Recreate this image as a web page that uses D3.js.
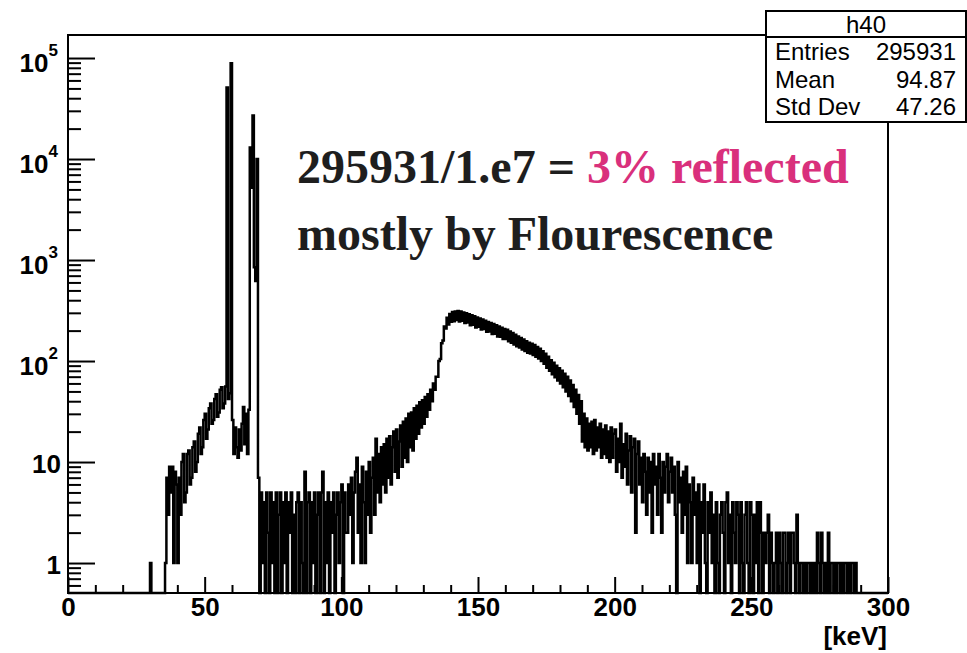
<!DOCTYPE html>
<html>
<head>
<meta charset="utf-8">
<script src="https://cdn.jsdelivr.net/npm/d3@7"></script>
<style>
  body { margin: 0; background: #fff; }
  svg { display: block; }
</style>
</head>
<body>
<div id="chart"></div>
<script>
// h40 energy spectrum, log y, 0.5 keV bins

const binWidth = 0.5;
const xMax = 300;

// lone single counts below the hump
const isolatedKeV = [30.0, 35.5];
const isolatedCounts = [1, 1];

// contiguous segments, each starts at the keV value below
const segmentStarts = [36, 58, 70, 102, 135, 160, 200, 250];

const humpCounts = [
  7, 3, 9, 5, 9, 1, 8, 6, 1, 7,
  3, 10, 12, 4, 5, 12, 13, 6, 7, 14,
  16, 8, 10, 19, 22, 12, 14, 26, 30, 17,
  21, 34, 38, 24, 26, 42, 47, 28, 31, 52,
  55, 34, 38, 56
];
const kLineCounts = [
  51000, 42, 48, 89000, 26, 12, 22, 14, 11, 21,
  13, 24, 35, 15, 30, 12, 33, 13000, 5200, 27000,
  850, 620, 10000, 7
];
const gapCounts = [
  0, 5, 1, 4, 0, 5, 2, 0, 5, 1,
  4, 0, 5, 0, 3, 5, 0, 4, 1, 5,
  0, 4, 2, 5, 0, 3, 0, 4, 5, 0,
  4, 1, 0, 8, 0, 4, 5, 0, 4, 1,
  5, 0, 3, 5, 0, 5, 8, 0, 4, 1,
  5, 0, 4, 2, 5, 0, 3, 5, 1, 4,
  6, 0, 5, 2
];
const riseCounts = [
  2, 6, 3, 7, 1, 5, 8, 11, 2, 6,
  1, 9, 4, 1, 8, 3, 10, 2, 7, 11,
  3, 17, 5, 12, 4, 14, 6, 15, 5, 17,
  7, 18, 6, 14, 20, 8, 21, 7, 16, 23,
  9, 25, 11, 27, 10, 30, 14, 31, 13, 34,
  17, 36, 19, 39, 22, 41, 24, 44, 28, 47,
  33, 52, 40, 60, 52, 70
];
const peakCounts = [
  70, 100, 105, 150, 160, 220, 210, 268, 230, 292,
  245, 305, 248, 310, 255, 312, 246, 309, 250, 303,
  238, 297, 240, 290, 226, 284, 228, 277, 215, 270,
  218, 263, 205, 257, 207, 250, 195, 244, 196, 238,
  185, 232, 186, 226, 175, 220, 174, 214, 165, 207
];
const fallCounts = [
  165, 204, 157, 196, 152, 189, 146, 182, 140, 175,
  136, 169, 130, 163, 126, 157, 121, 152, 119, 148,
  115, 144, 110, 138, 106, 132, 100, 125, 94, 118,
  86, 110, 80, 102, 74, 96, 69, 90, 64, 85,
  60, 80, 55, 75, 50, 70, 45, 64, 40, 58,
  35, 52, 30, 46, 24, 40, 16, 30, 14, 27,
  13, 24, 14, 25, 12, 26, 13, 22, 14, 24,
  11, 21, 12, 23, 11, 20, 10, 22, 11, 19
];
const tailCounts = [
  21, 8, 17, 10, 24, 7, 15, 9, 19, 6,
  13, 18, 5, 14, 17, 2, 12, 16, 6, 11,
  4, 12, 8, 3, 11, 5, 10, 2, 12, 6,
  9, 3, 12, 7, 2, 10, 5, 9, 12, 4,
  8, 11, 5, 9, 3, 0, 10, 4, 7, 2,
  8, 3, 9, 1, 6, 4, 1, 7, 3, 5,
  1, 6, 0, 4, 2, 6, 1, 0, 4, 2,
  5, 1, 3, 0, 4, 1, 0, 3, 4, 2,
  0, 4, 5, 1, 3, 0, 4, 2, 1, 4,
  3, 0, 4, 1, 0, 3, 4, 1, 0, 4
];
const endCounts = [
  3, 0, 3, 1, 4, 0, 4, 2, 0, 2,
  1, 2, 3, 0, 2, 1, 0, 1, 2, 0,
  2, 1, 0, 2, 2, 0, 1, 2, 0, 2,
  2, 1, 0, 3, 1, 0, 1, 1, 0, 1,
  0, 1, 1, 0, 1, 0, 1, 0, 2, 1,
  0, 2, 1, 0, 1, 0, 2, 0, 1, 1,
  0, 1, 0, 1, 1, 0, 1, 0, 1, 1,
  0, 1, 0, 1, 1, 0, 1
];
const segments = [humpCounts, kLineCounts, gapCounts, riseCounts,
  peakCounts, fallCounts, tailCounts, endCounts];

const xTickValues = [0, 50, 100, 150, 200, 250, 300];
const statsTitle = 'h40';
const statsLabels = ['Entries', 'Mean', 'Std Dev'];
const statsValues = ['295931', '94.87', '47.26'];

// ---- build bins
const nBins = Math.round(xMax / binWidth);
const counts = new Array(nBins).fill(0);
isolatedKeV.forEach((k, i) => { counts[Math.round(k / binWidth)] = isolatedCounts[i]; });
segments.forEach((seg, s) => {
  const i0 = Math.round(segmentStarts[s] / binWidth);
  seg.forEach((c, j) => { counts[i0 + j] = c; });
});
const steps = counts.map((c, i) => [i * binWidth, c]);
steps.push([xMax, counts[nBins - 1]]);

// ---- layout
const W = 967, H = 653;
const frame = { left: 68, top: 35, right: 888, bottom: 593 };
const yMin = 0.505, yMax = 1.69e5;

const svg = d3.select('#chart').append('svg').attr('width', W).attr('height', H);

const x = d3.scaleLinear().domain([0, xMax]).range([frame.left, frame.right]);
const y = d3.scaleLog().domain([yMin, yMax]).range([frame.bottom, frame.top]).clamp(true);

const sans = 'Liberation Sans, Arial, Helvetica, sans-serif';
const serif = 'Liberation Serif, Times New Roman, serif';

// histogram
const line = d3.line()
  .x(d => x(d[0]))
  .y(d => d[1] > 0 ? y(d[1]) : y(yMin))
  .curve(d3.curveStepAfter);

svg.append('path').datum(steps)
  .attr('d', line)
  .attr('fill', 'none').attr('stroke', '#000').attr('stroke-width', 2.5)
  .attr('stroke-linejoin', 'miter');

// x axis: major + minor ticks pointing inward
const xMinor = d3.range(10, xMax, 10).filter(v => v % 50 !== 0);
const xAxisMajor = d3.axisBottom(x).tickValues(xTickValues).tickSize(-16).tickPadding(5).tickFormat(d3.format('d'));
const xAxisMinor = d3.axisBottom(x).tickValues(xMinor).tickSize(-8).tickFormat('');

const gxMinor = svg.append('g').attr('transform', `translate(0,${frame.bottom})`).call(xAxisMinor);
const gx = svg.append('g').attr('transform', `translate(0,${frame.bottom})`).call(xAxisMajor);
[gx, gxMinor].forEach(g => {
  g.select('.domain').remove();
  g.selectAll('line').attr('stroke', '#000').attr('stroke-width', 2);
});
gx.selectAll('text')
  .attr('fill', '#000')
  .style('font-family', sans).style('font-weight', 'bold').style('font-size', '26px');

// y axis: log ticks pointing inward
const yMajor = [1, 10, 100, 1000, 10000, 100000];
const yMinorVals = [];
for (let d = -1; d <= 5; d++) {
  for (let m = 2; m <= 9; m++) {
    const v = m * Math.pow(10, d);
    if (v >= yMin && v <= yMax) yMinorVals.push(v);
  }
}
const yAxisMajor = d3.axisLeft(y).tickValues(yMajor).tickSize(-27).tickFormat('');
const yAxisMinor = d3.axisLeft(y).tickValues(yMinorVals).tickSize(-13).tickFormat('');
const gyMinor = svg.append('g').attr('transform', `translate(${frame.left},0)`).call(yAxisMinor);
const gy = svg.append('g').attr('transform', `translate(${frame.left},0)`).call(yAxisMajor);
[gy, gyMinor].forEach(g => {
  g.select('.domain').remove();
  g.selectAll('line').attr('stroke', '#000').attr('stroke-width', 2);
});

const yLabels = svg.append('g')
  .style('font-family', sans).style('font-weight', 'bold').attr('fill', '#000');
yMajor.forEach(v => {
  const p = Math.round(Math.log10(v));
  if (p < 2) {
    yLabels.append('text')
      .attr('x', 61).attr('y', y(v) + 10.5)
      .attr('text-anchor', 'end').style('font-size', '26px')
      .text(String(v));
  } else {
    const t = yLabels.append('text')
      .attr('x', 58).attr('y', y(v) + 13.5)
      .attr('text-anchor', 'end').style('font-size', '26px');
    t.append('tspan').text('10');
    t.append('tspan').attr('dy', -16).style('font-size', '17px').text(String(p));
  }
});

// frame
svg.append('rect')
  .attr('x', frame.left).attr('y', frame.top)
  .attr('width', frame.right - frame.left).attr('height', frame.bottom - frame.top)
  .attr('fill', 'none').attr('stroke', '#000').attr('stroke-width', 2);

// axis title
svg.append('text')
  .attr('x', 887).attr('y', 645).attr('text-anchor', 'end')
  .style('font-family', sans).style('font-weight', 'bold').style('font-size', '26px')
  .text('[keV]');

// stats box
const box = { x: 766, y: 11, w: 200, h: 111, split: 37 };
svg.append('rect')
  .attr('x', box.x).attr('y', box.y).attr('width', box.w).attr('height', box.h)
  .attr('fill', '#fff').attr('stroke', '#000').attr('stroke-width', 2);
svg.append('line')
  .attr('x1', box.x).attr('x2', box.x + box.w).attr('y1', box.split).attr('y2', box.split)
  .attr('stroke', '#000').attr('stroke-width', 2);
const stats = svg.append('g').style('font-family', sans).style('font-size', '24px').attr('fill', '#000');
stats.append('text').attr('x', box.x + box.w / 2).attr('y', 33).attr('text-anchor', 'middle').text(statsTitle);
const rowY = [60, 87.5, 115];
statsLabels.forEach((lab, i) => {
  stats.append('text').attr('x', 775).attr('y', rowY[i]).text(lab);
  stats.append('text').attr('x', 956).attr('y', rowY[i]).attr('text-anchor', 'end').text(statsValues[i]);
});

// annotation
const note = svg.append('g')
  .style('font-family', serif).style('font-weight', 'bold').style('font-size', '48px');
const l1 = note.append('text').attr('x', 297).attr('y', 183).attr('fill', '#1e1e1e');
l1.append('tspan').text('295931/1.e7 = ');
l1.append('tspan').attr('fill', '#d9307c').text('3% reflected');
note.append('text').attr('x', 297).attr('y', 250).attr('fill', '#1e1e1e')
  .text('mostly by Flourescence');
</script>
</body>
</html>
